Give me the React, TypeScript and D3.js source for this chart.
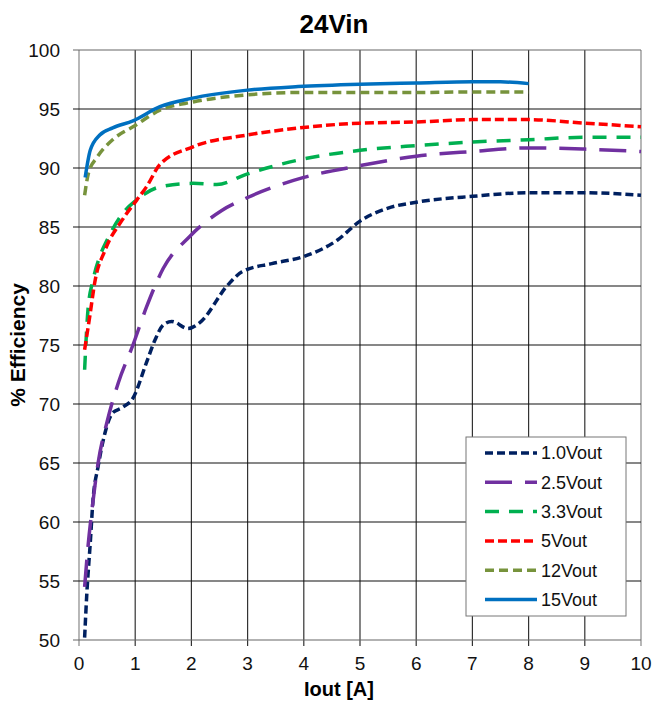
import React from "react";
import * as d3 from "d3";

const width = 656;
const height = 706;
const margin = { top: 50, right: 15, bottom: 66, left: 79 };

const xTicks = [0, 1, 2, 3, 4, 5, 6, 7, 8, 9, 10];
const yTicks = [50, 55, 60, 65, 70, 75, 80, 85, 90, 95, 100];

// Iout [A] vs % efficiency
const v10x = [0.1, 0.14, 0.2, 0.25, 0.34, 0.46, 0.59, 0.77, 0.96, 1.2, 1.35, 1.5, 1.65, 1.94, 2.15, 2.65, 2.9, 3.43, 4.0, 4.6, 5.0, 5.5, 6, 7, 8, 9, 10];
const v10y = [50.2, 54, 58.2, 61.9, 64.7, 67.5, 69.2, 69.7, 70.5, 73.5, 75.4, 76.7, 77.0, 76.4, 76.9, 80.1, 81.2, 81.9, 82.5, 83.9, 85.5, 86.6, 87.1, 87.6, 87.9, 87.9, 87.7];

const v25x = [0.1, 0.16, 0.23, 0.34, 0.5, 0.7, 0.96, 1.2, 1.5, 1.97, 2.54, 3, 4, 5, 6, 7, 8, 9, 10];
const v25y = [54.5, 57.9, 61, 65, 68.5, 71.8, 75.0, 78.2, 81.5, 84.2, 86.4, 87.5, 89.2, 90.2, 91.0, 91.4, 91.7, 91.6, 91.4];

const v33x = [0.1, 0.16, 0.25, 0.37, 0.5, 0.82, 1.0, 1.44, 2.03, 2.45, 3, 3.93, 5, 6, 7, 8, 9, 10];
const v33y = [72.9, 78.0, 80.5, 82.5, 83.9, 86.4, 87.2, 88.4, 88.7, 88.6, 89.5, 90.7, 91.5, 91.9, 92.2, 92.4, 92.6, 92.6];

const v5x = [0.1, 0.2, 0.28, 0.46, 0.77, 1.03, 1.2, 1.44, 2.03, 3, 3.93, 5, 6, 7, 8, 9, 10];
const v5y = [74.6, 77.7, 80.3, 83.0, 85.6, 87.3, 88.4, 90.3, 91.8, 92.8, 93.4, 93.8, 93.9, 94.1, 94.1, 93.8, 93.5];

const v12x = [0.1, 0.17, 0.32, 0.6, 1.0, 1.44, 2.03, 3, 3.93, 5, 6, 7, 8];
const v12y = [87.7, 89.6, 90.9, 92.4, 93.6, 94.9, 95.6, 96.2, 96.4, 96.4, 96.4, 96.45, 96.45];

const v15x = [0.11, 0.2, 0.37, 0.6, 0.96, 1.44, 2.0, 3, 3.9, 5, 6, 7, 7.5, 8];
const v15y = [89.2, 91.5, 92.8, 93.4, 94.0, 95.2, 95.9, 96.6, 96.9, 97.1, 97.2, 97.3, 97.3, 97.15];

const seriesNames = ["1.0Vout", "2.5Vout", "3.3Vout", "5Vout", "12Vout", "15Vout"];
const seriesX = [v10x, v25x, v33x, v5x, v12x, v15x];
const seriesY = [v10y, v25y, v33y, v5y, v12y, v15y];
const colors = ["#002060", "#7030A0", "#00B050", "#FF0000", "#77933C", "#0070C0"];
const dashes = ["8,4", "27,13", "14,10", "9,4", "9,5", "none"];

const font = "Arial, 'Liberation Sans', sans-serif";

const App = () => {
  const x = d3
    .scaleLinear()
    .domain([0, 10])
    .range([margin.left, width - margin.right]);
  const y = d3
    .scaleLinear()
    .domain([50, 100])
    .range([height - margin.bottom, margin.top]);

  const line = d3
    .line<[number, number]>()
    .x((d) => x(d[0]))
    .y((d) => y(d[1]))
    .curve(d3.curveMonotoneX);

  const legendX = 466;
  const legendY = 437;
  const rowH = 29.3;

  return (
    <svg
      width={width}
      height={height}
      style={{ position: "absolute", left: 0, top: 0, background: "#fff" }}
      fontFamily={font}
    >
      <rect width={width} height={height} fill="#fff" />
      {/* grid */}
      {xTicks.map((t) => (
        <line
          key={"gx" + t}
          x1={x(t)}
          x2={x(t)}
          y1={y(100)}
          y2={y(50) + 6}
          stroke={t === 0 || t === 10 ? "#888" : "#333"}
          strokeWidth={1.2}
        />
      ))}
      {yTicks.map((t) => (
        <line
          key={"gy" + t}
          x1={x(0) - 6}
          x2={x(10)}
          y1={y(t)}
          y2={y(t)}
          stroke={t === 50 || t === 100 ? "#666" : "#111"}
          strokeWidth={1.2}
        />
      ))}
      {/* tick labels */}
      {yTicks.map((t) => (
        <text
          key={"ty" + t}
          x={x(0) - 19}
          y={y(t)}
          dy="0.36em"
          textAnchor="end"
          fontSize={19}
          fill="#111"
        >
          {t}
        </text>
      ))}
      {xTicks.map((t) => (
        <text
          key={"tx" + t}
          x={x(t)}
          y={y(50) + 30}
          textAnchor="middle"
          fontSize={19}
          fill="#111"
        >
          {t}
        </text>
      ))}
      {/* lines */}
      {seriesX.map((xs, i) => (
        <path
          key={seriesNames[i]}
          d={line(xs.map((v, j) => [v, seriesY[i][j]] as [number, number])) || ""}
          fill="none"
          stroke={colors[i]}
          strokeWidth={3.5}
          strokeDasharray={dashes[i]}
        />
      ))}
      {/* titles */}
      <text x={334} y={33} textAnchor="middle" fontSize={26} fontWeight="bold">
        24Vin
      </text>
      <text x={339} y={696} textAnchor="middle" fontSize={20} fontWeight="bold">
        Iout [A]
      </text>
      <text
        transform={`translate(25,${(y(50) + y(100)) / 2}) rotate(-90)`}
        textAnchor="middle"
        fontSize={21}
        fontWeight="bold"
      >
        % Efficiency
      </text>
      {/* legend */}
      <rect
        x={legendX}
        y={legendY}
        width={160}
        height={179}
        fill="#fff"
        stroke="#777"
        strokeWidth={1}
      />
      {seriesNames.map((name, i) => {
        const cy = legendY + 16 + i * rowH;
        return (
          <g key={"lg" + name}>
            <line
              x1={485}
              x2={537}
              y1={cy}
              y2={cy}
              stroke={colors[i]}
              strokeWidth={3.5}
              strokeDasharray={dashes[i]}
            />
            <text x={541} y={cy} dy="0.36em" fontSize={18} fill="#111">
              {name}
            </text>
          </g>
        );
      })}
    </svg>
  );
};

export default App;
